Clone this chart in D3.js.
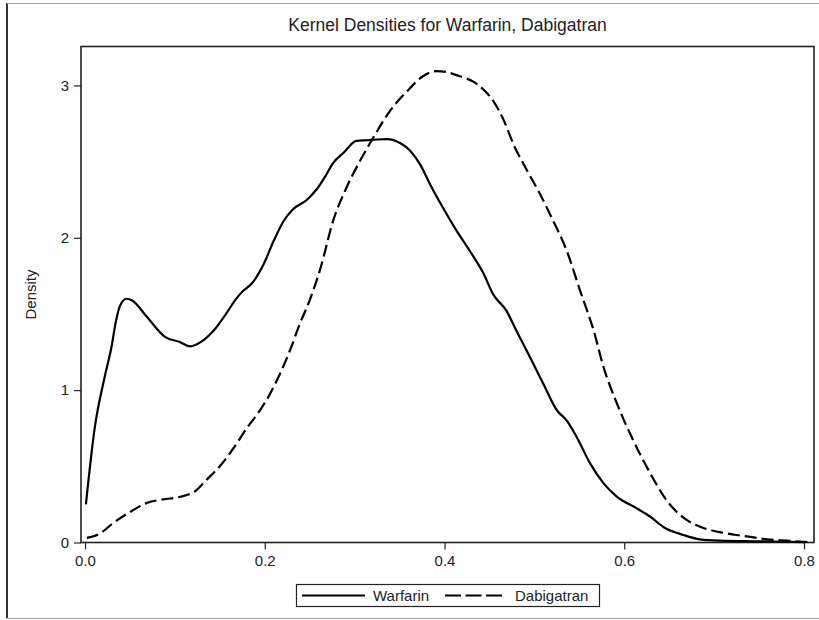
<!DOCTYPE html>
<html>
<head>
<meta charset="utf-8">
<script src="https://cdn.jsdelivr.net/npm/d3@7"></script>
<style>
  html, body { margin: 0; padding: 0; background: #fff; }
  svg { display: block; font-family: Arial, "Liberation Sans", sans-serif; }
</style>
</head>
<body>
<svg id="chart" width="819" height="620"></svg>
<script>
const chartTitle = "Kernel Densities for Warfarin, Dabigatran";
const yAxisLabel = "Density";
const seriesNames = ["Warfarin", "Dabigatran"];
const xTicks = [0.0, 0.2, 0.4, 0.6, 0.8];
const yTicks = [0, 1, 2, 3];

const warfarinX = [0.001, 0.011, 0.022, 0.030, 0.034, 0.039, 0.046, 0.052, 0.069, 0.089, 0.106, 0.117, 0.124, 0.143, 0.158, 0.167, 0.174, 0.187, 0.199, 0.210, 0.221, 0.232, 0.247, 0.258, 0.268, 0.276, 0.288, 0.302, 0.314, 0.325, 0.336, 0.351, 0.362, 0.373, 0.384, 0.398, 0.413, 0.428, 0.443, 0.454, 0.469, 0.480, 0.495, 0.510, 0.525, 0.536, 0.547, 0.562, 0.577, 0.592, 0.614, 0.629, 0.644, 0.666, 0.684, 0.707, 0.745, 0.781, 0.800];
const warfarinY = [0.25, 0.76, 1.09, 1.30, 1.44, 1.555, 1.60, 1.59, 1.48, 1.35, 1.315, 1.287, 1.30, 1.39, 1.51, 1.59, 1.64, 1.71, 1.83, 1.98, 2.11, 2.19, 2.25, 2.32, 2.41, 2.49, 2.56, 2.636, 2.64, 2.645, 2.647, 2.62, 2.57, 2.48, 2.35, 2.20, 2.05, 1.915, 1.77, 1.63, 1.52, 1.39, 1.217, 1.04, 0.868, 0.80, 0.693, 0.519, 0.388, 0.30, 0.224, 0.169, 0.10, 0.049, 0.021, 0.012, 0.008, 0.005, 0.003];

const dabigatranX = [0.002, 0.017, 0.031, 0.050, 0.069, 0.087, 0.106, 0.124, 0.135, 0.150, 0.165, 0.180, 0.195, 0.206, 0.217, 0.228, 0.239, 0.250, 0.262, 0.276, 0.291, 0.306, 0.321, 0.339, 0.358, 0.376, 0.391, 0.402, 0.417, 0.432, 0.443, 0.454, 0.466, 0.477, 0.492, 0.506, 0.521, 0.536, 0.551, 0.566, 0.577, 0.592, 0.610, 0.629, 0.648, 0.667, 0.686, 0.706, 0.725, 0.742, 0.759, 0.781, 0.805];
const dabigatranY = [0.03, 0.06, 0.126, 0.20, 0.26, 0.283, 0.30, 0.344, 0.41, 0.50, 0.617, 0.75, 0.87, 0.977, 1.108, 1.26, 1.435, 1.59, 1.80, 2.11, 2.33, 2.505, 2.66, 2.83, 2.96, 3.06, 3.094, 3.088, 3.06, 3.025, 2.975, 2.90, 2.77, 2.61, 2.44, 2.29, 2.11, 1.915, 1.65, 1.39, 1.15, 0.91, 0.67, 0.453, 0.27, 0.158, 0.10, 0.068, 0.049, 0.035, 0.021, 0.012, 0.003];

const svg = d3.select("#chart");
const plot = { left: 81, right: 814, top: 46.5, bottom: 542.5 };

const x = d3.scaleLinear().domain([-0.00445, 0.8111]).range([plot.left, plot.right]);
const y = d3.scaleLinear().domain([0, 3.2555]).range([plot.bottom, plot.top]);

// outer frame
svg.append("line").attr("x1", 7).attr("x2", 7).attr("y1", 3).attr("y2", 618)
  .attr("stroke", "#000").attr("stroke-width", 1.6);
svg.append("line").attr("x1", 7).attr("x2", 819).attr("y1", 3.5).attr("y2", 3.5)
  .attr("stroke", "#a8a8a8").attr("stroke-width", 1);
svg.append("line").attr("x1", 7).attr("x2", 819).attr("y1", 618.5).attr("y2", 618.5)
  .attr("stroke", "#a8a8a8").attr("stroke-width", 1);

// title
svg.append("text").attr("x", (plot.left + plot.right) / 2).attr("y", 31)
  .attr("text-anchor", "middle").attr("font-size", 17.5).attr("fill", "#222")
  .text(chartTitle);

// axes
const xAxis = d3.axisBottom(x).tickValues(xTicks).tickFormat(d3.format(".1f")).tickSizeOuter(0).tickSize(7).tickPadding(6);
const yAxis = d3.axisLeft(y).tickValues(yTicks).tickFormat(d3.format("d")).tickSizeOuter(0).tickSize(7).tickPadding(5);

const gx = svg.append("g").attr("transform", `translate(0,${plot.bottom})`).call(xAxis);
const gy = svg.append("g").attr("transform", `translate(${plot.left},0)`).call(yAxis);
[gx, gy].forEach(g => {
  g.select(".domain").remove();
  g.selectAll(".tick line").attr("stroke", "#222").attr("stroke-width", 1.2);
  g.selectAll(".tick text").attr("font-size", 15).attr("fill", "#222")
    .attr("font-family", "Arial, 'Liberation Sans', sans-serif");
});

// plot frame
svg.append("rect").attr("x", plot.left).attr("y", plot.top)
  .attr("width", plot.right - plot.left).attr("height", plot.bottom - plot.top)
  .attr("fill", "none").attr("stroke", "#222").attr("stroke-width", 1.6);

// y label
svg.append("text").attr("transform", `translate(36,${(plot.top + plot.bottom) / 2}) rotate(-90)`)
  .attr("text-anchor", "middle").attr("font-size", 15).attr("fill", "#222").text(yAxisLabel);

// curves
const line = d3.line().x(d => x(d[0])).y(d => y(d[1])).curve(d3.curveMonotoneX);
const wData = warfarinX.map((v, i) => [v, warfarinY[i]]);
const dData = dabigatranX.map((v, i) => [v, dabigatranY[i]]);

svg.append("path").datum(wData).attr("d", line).attr("fill", "none")
  .attr("stroke", "#000").attr("stroke-width", 2.2);
svg.append("path").datum(dData).attr("d", line).attr("fill", "none")
  .attr("stroke", "#000").attr("stroke-width", 2.2).attr("stroke-dasharray", "12,5");

// legend
const lg = svg.append("g");
lg.append("rect").attr("x", 296.5).attr("y", 584.5).attr("width", 303).attr("height", 22)
  .attr("fill", "#fff").attr("stroke", "#222").attr("stroke-width", 1.2);
lg.append("line").attr("x1", 302).attr("x2", 365).attr("y1", 595.5).attr("y2", 595.5)
  .attr("stroke", "#000").attr("stroke-width", 2.2);
lg.append("text").attr("x", 373).attr("y", 601).attr("font-size", 15).attr("fill", "#222").text(seriesNames[0]);
lg.append("line").attr("x1", 445).attr("x2", 502).attr("y1", 595.5).attr("y2", 595.5)
  .attr("stroke", "#000").attr("stroke-width", 2.2).attr("stroke-dasharray", "16,4.5");
lg.append("text").attr("x", 515).attr("y", 601).attr("font-size", 15).attr("fill", "#222").text(seriesNames[1]);
</script>
</body>
</html>
